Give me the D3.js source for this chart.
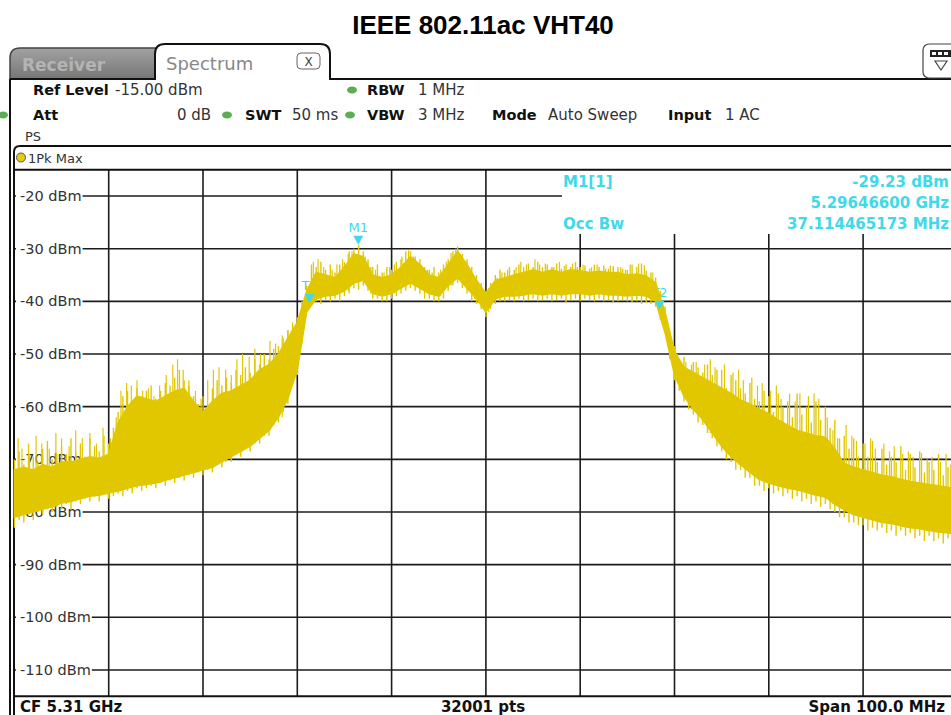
<!DOCTYPE html>
<meta charset="utf-8">
<head>
<script src="https://d3js.org/d3.v7.min.js"></script>
<style>
  body { margin: 0; background: #fff; }
  text { font-family: "DejaVu Sans", Verdana, sans-serif; }
</style>
</head>
<body>
<div id="chart"></div>
<script>
// frequency offset from CF 5.31 GHz in MHz, 1 MHz steps over the 100 MHz span
var freqMHz = d3.range(-50, 51);

// lower edge of the dense part of the max-hold trace (dBm)
var floorDbm = [
  -81, -80.5, -80, -79.5, -79, -78.3, -78, -77.5, -77, -76.8,
  -76.4, -76, -75.5, -75, -74.8, -74.5, -74, -73.5, -73, -72.5,
  -72, -71.5, -70.5, -69.5, -68.5, -67.5, -66, -64.5, -62, -58.5,
  -53, -42, -39.5, -39, -38.8, -38, -36.5, -36, -38.5, -39,
  -38.5, -37.5, -36.5, -37.5, -38.5, -39, -37, -35.5, -37.5, -39.5,
  -42,
  -39.5, -39, -39, -38.8, -38.5, -38.8, -38.5, -38.8, -38.5, -38.5,
  -38.8, -38.5, -38.8, -38.8, -39, -38.8, -39, -40, -46, -54,
  -58, -60.5, -62.5, -65, -67.5, -69.5, -71, -72.5, -73.8, -74.5,
  -75, -75.5, -75.8, -76.3, -76.8, -77.2, -78.5, -79.6, -80.5, -81,
  -81.5, -82, -82.2, -82.6, -83, -83.2, -83.5, -83.8, -84, -84.2
];

// upper edge of the dense part (dBm)
var bandTopDbm = [
  -72, -71.5, -72, -71, -71.5, -70.5, -70.5, -70, -69.5, -69.8,
  -69, -63, -60, -58, -58.5, -59, -58, -57, -56.5, -59,
  -61, -59, -57.5, -57, -56, -55, -53, -52, -50, -47,
  -44, -38, -34.5, -35, -35.5, -33.5, -31, -31.5, -35, -35.5,
  -35, -33.5, -31.5, -33, -35, -35.5, -33, -30.5, -33, -36,
  -38.5,
  -36, -35.5, -35, -34.5, -34, -34.5, -34, -34.5, -34, -34.2,
  -34.5, -34.3, -34.5, -34.5, -35, -34.8, -35.2, -36.5, -42, -49.5,
  -52.5, -53.5, -54.5, -55.5, -56.5, -57.5, -58.7, -59.5, -60.5, -61.3,
  -62.5, -63.5, -64.5, -65, -65.5, -65.8, -68, -70.8, -71.5, -72,
  -72.5, -73, -73.3, -73.8, -74.2, -74.5, -74.8, -75, -75.3, -75.5
];

// fine min/max hairs every 0.5 MHz (dBm)
var hairFreq = d3.range(-50, 50.25, 0.5);
var hairTopDbm = [
  -70, -68.5, -71, -67, -69.5, -70.5, -68, -66.5, -70, -69,
  -67.5, -69, -66, -68.5, -67, -69.5, -66, -67.5, -68.5, -65.5,
  -67, -64, -61, -58, -57, -59.5, -56.5, -58, -57, -56,
  -58.5, -57, -55.5, -56, -54.5, -53, -55, -56, -58, -59.5,
  -58, -60, -56.5, -55, -56, -54.5, -55.5, -53, -54, -52.5,
  -53.5, -51, -52, -50, -51, -49, -48.5, -47, -45.5, -44.5,
  -43, -40, -37, -33, -33.5, -32.5, -34, -33, -34.5, -33,
  -32.5, -30.5, -30, -29.3, -30.5, -32, -33.5, -33, -34.5, -33.5,
  -34, -32.5, -32, -30.5, -30.5, -31.5, -32, -33.5, -34, -33.5,
  -34.5, -33, -32, -30.5, -29.6, -31, -32, -33.5, -35, -36.5,
  -38, -36.5, -35, -34, -34.5, -33.5, -34, -33, -33.5, -32.8,
  -33.5, -32.5, -33.5, -33, -33.5, -32.8, -33.8, -33, -33.5, -32.5,
  -33.5, -33.2, -33.8, -33, -33.5, -33.2, -33.8, -33.3, -33.5, -33.8,
  -34, -33, -33.5, -32.8, -34.2, -34.5, -35.5, -38, -41, -46,
  -48.5, -51, -50.5, -53, -51.5, -52.5, -53.5, -52, -54, -53,
  -53, -56.5, -54, -55, -56.5, -57.5, -55.5, -58.5, -59, -57,
  -58, -61, -57.5, -60, -59, -62, -57.5, -61.5, -60, -63,
  -59, -62.5, -60, -64, -62.5, -66, -65.5, -68, -66, -69.5,
  -67, -69.5, -66.5, -70.5, -68, -71, -69.5, -70.5, -67.5, -72,
  -69, -71.5, -68.5, -72.5, -70.5, -72, -69, -73, -71.5, -73.5,
  -71
];
var hairBottomDbm = [
  -83, -81.5, -82, -80.5, -81.5, -80, -80.5, -79.5, -80, -79,
  -79.5, -78.5, -79.5, -78, -78.5, -77.5, -78, -77, -78, -76.5,
  -77.5, -77, -76.5, -77, -76, -76.5, -75.5, -76, -75.5, -75,
  -75.5, -74.5, -75, -74, -74.5, -73.5, -74, -73, -73.5, -72.5,
  -73, -72, -72.5, -71, -71.5, -70, -70.5, -69, -69.5, -68,
  -68.5, -67, -67, -65.5, -65.5, -63.5, -63, -61, -59.5, -56,
  -54, -48, -42, -40.5, -40, -40.5, -39.8, -40, -39.5, -40,
  -39, -38.5, -37.5, -37.8, -37, -38, -39.5, -39.5, -40, -40,
  -39.5, -39, -38.5, -38, -37.5, -38, -38.5, -39.5, -39.5, -40,
  -40, -39.5, -38, -37, -36.5, -37.5, -38.5, -40, -40.5, -41.5,
  -43, -41.5, -40.5, -40, -40, -39.8, -40, -39.5, -40, -39.8,
  -39.5, -40, -39.8, -39.5, -40, -39.8, -39.5, -40.2, -39.8, -39.5,
  -40, -39.5, -39.8, -40, -39.5, -40, -39.8, -40.2, -40, -39.8,
  -40, -40.2, -40, -40.5, -40.2, -40.5, -41, -43.5, -46, -51,
  -55, -57, -59, -60.5, -61.5, -63, -63.5, -65, -66, -67.5,
  -68.5, -70, -70.5, -72, -72, -73.5, -73.5, -75, -75, -76,
  -75.5, -76.5, -76, -77, -76.5, -77.5, -77, -78, -77.5, -78.5,
  -78, -79, -78.5, -79.5, -80, -81, -81, -82, -82, -82.5,
  -82.5, -83.5, -83, -83.5, -83, -84, -83.5, -84.5, -83.5, -84.5,
  -84, -85, -84.5, -85.5, -84.5, -85.5, -85, -86, -85, -86,
  -85.5
];

// isolated peaks sticking out of the band
var peakFreq = [
  -49.6, -49.2, -48.4, -47.7, -47.1, -46.3, -45.6, -45.0, -44.2, -43.5,
  -42.8, -42.0, -41.3, -40.6, -39.8, -39.2, -38.7, -38.1, -37.6, -37.0,
  -36.4, -35.8, -35.2, -34.6, -33.9, -33.2, -32.7, -32.1, -31.5, -30.8,
  -30.2, -29.5, -28.9, -28.3, -27.6, -27.0, -26.4, -25.8, -25.1, -24.5,
  -23.9, -22.9, -22.3, -21.6, -21.0, -20.5,
  -18.3, -17.8, -17.2, -16.3, -15.8, -15.2, -14.6, -14.2, -12.8, -12.2,
  -11.7, -10.8, -10.2, -9.7, -8.9, -8.2, -7.7, -6.9, -6.2, -5.7,
  -4.8, -4.2, -3.7, -3.2, -2.7, -1.8, -1.2, -0.7, 0.3, 1.2,
  1.7, 2.3, 3.2, 3.7, 4.3, 5.2, 5.7, 6.3, 7.2, 7.8,
  8.3, 9.2, 9.7, 10.3, 11.2, 11.8, 12.7, 13.2, 14.3, 14.8,
  15.3, 16.2, 16.8, 17.7,
  19.3, 20.3, 21.2, 21.8, 22.3, 23.2, 23.8, 24.3, 25.3, 26.2,
  26.8, 27.3, 28.2, 28.8, 29.3, 30.2, 30.8, 31.3, 32.2, 32.8,
  33.3, 34.2, 34.8, 35.3, 36.2, 36.8, 37.3, 38.2, 38.8, 39.3,
  40.2, 40.8, 41.3, 42.2, 42.8, 43.3, 44.2, 44.8, 45.3, 46.2,
  46.8, 47.3, 48.2, 48.8, 49.3
];
var peakDbm = [
  -66, -68, -69, -65.5, -67, -68, -65, -66, -67.5, -64.5,
  -66, -65, -67, -64, -66, -62, -57, -55.5, -56, -55,
  -57, -56.5, -58, -56, -54, -52, -51, -53, -55, -57,
  -58.5, -55, -53, -52.5, -53, -54, -51, -50, -50.5, -49,
  -50, -47.5, -48, -46.5, -45.5, -44,
  -32.5, -32, -33.5, -34, -33, -32, -31, -30.5, -31.5, -33.5,
  -34, -34.5, -33.5, -33, -31.5, -30.3, -31.5, -33, -34, -34.5,
  -34, -32.5, -30.8, -30, -31, -33.5, -35.5, -37, -37.5, -35.5,
  -34.5, -34, -33.5, -32.5, -33, -32, -33, -32.8, -33.5, -32.5,
  -33.3, -32.8, -33.5, -33, -33.5, -33, -33.8, -33.2, -33.5, -34,
  -33, -32.8, -33.1, -34.5,
  -46, -50, -51.5, -52, -51.5, -52, -51, -52.5, -52, -53.5,
  -53, -55, -54.5, -56, -55.5, -57, -56, -58.5, -57.5, -59,
  -57.5, -58, -57.5, -58.5, -62, -64.5, -66, -63.5, -65.5, -66.5,
  -67, -66, -68, -67, -68.5, -67.5, -69, -68.5, -69.5, -68.8,
  -70, -69.5, -70.5, -69, -71
];

var levelTicks = [-20, -30, -40, -50, -60, -70, -80, -90, -100, -110];
var freqGrid = [-40, -30, -20, -10, 0, 10, 20, 30, 40];

// markers: M1 peak and the two occupied-bandwidth edges
var markerNames = ["M1", "T1", "T2"];
var markerFreq = [-13.534, -18.7, 18.414];
var markerDbm = [-29.23, -40.3, -41.6];

var W = 951, H = 715;
var traceColor = "#e1c700";
var cyan = "#3fd9ea";

var svg = d3.select("#chart").append("svg")
  .attr("width", W).attr("height", H);

var x = d3.scaleLinear().domain([-50, 50]).range([14.4, 957.4]);
var y = d3.scaleLinear().domain([-15, -115]).range([169.7, 696.3]);

// title
svg.append("text")
  .attr("x", 483).attr("y", 34)
  .attr("text-anchor", "middle")
  .style("font-family", "'Liberation Sans', Arial, sans-serif")
  .style("font-weight", "bold").style("font-size", "26px")
  .text("IEEE 802.11ac VHT40");

// tabs
var grad = svg.append("defs").append("linearGradient")
  .attr("id", "tabGrad").attr("x1", 0).attr("y1", 0).attr("x2", 0).attr("y2", 1);
grad.append("stop").attr("offset", "0%").attr("stop-color", "#a2a2a2");
grad.append("stop").attr("offset", "100%").attr("stop-color", "#767676");

svg.append("path")
  .attr("d", "M10,79 V58 Q10,48 20,48 H158 V79 Z")
  .attr("fill", "url(#tabGrad)").attr("stroke", "#444").attr("stroke-width", 1.5);
svg.append("text").attr("x", 22).attr("y", 71)
  .style("font-weight", "bold").style("font-size", "17px").attr("fill", "#b4b4b4")
  .text("Receiver");

svg.append("path")
  .attr("d", "M155,80 V54 Q155,44 165,44 H320 Q330,44 330,54 V79 H951")
  .attr("fill", "#fff").attr("stroke", "#111").attr("stroke-width", 2);
svg.append("line").attr("x1", 10).attr("x2", 155).attr("y1", 79).attr("y2", 79)
  .attr("stroke", "#111").attr("stroke-width", 2);
svg.append("text").attr("x", 166).attr("y", 70)
  .style("font-size", "18px").attr("fill", "#888").text("Spectrum");
svg.append("rect").attr("x", 297).attr("y", 53).attr("width", 23).attr("height", 16)
  .attr("rx", 4).attr("fill", "#fff").attr("stroke", "#666");
svg.append("text").attr("x", 308.5).attr("y", 65.5).attr("text-anchor", "middle")
  .style("font-size", "12px").attr("fill", "#444").text("X");

// icon at top right
svg.append("rect").attr("x", 923).attr("y", 44).attr("width", 40).attr("height", 34)
  .attr("rx", 6).attr("fill", "#fff").attr("stroke", "#444").attr("stroke-width", 1.2);
svg.append("rect").attr("x", 930).attr("y", 50).attr("width", 24).attr("height", 7).attr("fill", "#222");
[932, 938, 944].forEach(function (sx) {
  svg.append("rect").attr("x", sx).attr("y", 52).attr("width", 4).attr("height", 3).attr("fill", "#fff");
});
svg.append("path").attr("d", "M935,61 L947,61 L941,70 Z")
  .attr("fill", "none").attr("stroke", "#444").attr("stroke-width", 1.2);

// setting panel
function dot(cx, cy) {
  svg.append("ellipse").attr("cx", cx).attr("cy", cy).attr("rx", 5).attr("ry", 3.5)
    .attr("fill", "#5bae52");
}
function label(tx, ty, str, bold, size) {
  svg.append("text").attr("x", tx).attr("y", ty)
    .style("font-weight", bold ? "bold" : "normal")
    .style("font-size", (size || (bold ? 14.5 : 15)) + "px")
    .attr("fill", bold ? "#111" : "#333")
    .text(str);
}
label(33, 95, "Ref Level", true);
label(115, 95, "-15.00 dBm");
dot(352, 90);
label(367, 95, "RBW", true);
label(418, 95, "1 MHz");

dot(3, 115);
label(33, 120, "Att", true);
label(177, 120, "0 dB");
dot(227, 115);
label(245, 120, "SWT", true);
label(292, 120, "50 ms");
dot(350, 115);
label(367, 120, "VBW", true);
label(418, 120, "3 MHz");
label(492, 120, "Mode", true);
label(548, 120, "Auto Sweep");
label(668, 120, "Input", true);
label(725, 120, "1 AC");
label(25, 141, "PS", false, 13);

// trace window frame
svg.append("line").attr("x1", 10).attr("x2", 10).attr("y1", 79).attr("y2", H)
  .attr("stroke", "#111").attr("stroke-width", 2);
svg.append("path").attr("d", "M14,715 V152 Q14,146 20,146 H951")
  .attr("fill", "none").attr("stroke", "#111").attr("stroke-width", 2);
svg.append("circle").attr("cx", 21).attr("cy", 157.5).attr("r", 4.5)
  .attr("fill", "#e6cc10").attr("stroke", "#555").attr("stroke-width", 1);
label(28, 162.5, "1Pk Max", false, 13);

// grid
var infoLeft = 562, infoBottom = 234;
svg.append("g").selectAll("line").data(freqGrid).join("line")
  .attr("x1", function (d) { return x(d); })
  .attr("x2", function (d) { return x(d); })
  .attr("y1", function (d) { return x(d) > infoLeft ? infoBottom : y(-15); })
  .attr("y2", y(-115))
  .attr("stroke", "#1c1c1c").attr("stroke-width", 1.6);
svg.append("g").selectAll("line").data(levelTicks).join("line")
  .attr("x1", x(-50))
  .attr("x2", function (d) { return y(d) < infoBottom ? infoLeft : W; })
  .attr("y1", function (d) { return y(d); })
  .attr("y2", function (d) { return y(d); })
  .attr("stroke", "#1c1c1c").attr("stroke-width", 1.6);

// level labels on a white patch
var tl = svg.append("g").selectAll("g").data(levelTicks).join("g")
  .attr("transform", function (d) { return "translate(20," + y(d) + ")"; });
tl.append("rect").attr("x", -4).attr("y", -8).attr("height", 16).attr("fill", "#fff");
tl.append("text").attr("dy", "0.35em")
  .style("font-size", "14.5px").attr("fill", "#333")
  .text(function (d) { return d + " dBm"; });
tl.each(function () {
  var g = d3.select(this);
  var w = g.select("text").node().getComputedTextLength();
  g.select("rect").attr("width", w + 5);
});

// frame borders of the diagram
svg.append("line").attr("x1", 14).attr("x2", W).attr("y1", y(-15)).attr("y2", y(-15))
  .attr("stroke", "#111").attr("stroke-width", 2);
svg.append("line").attr("x1", 14).attr("x2", W).attr("y1", y(-115)).attr("y2", y(-115))
  .attr("stroke", "#111").attr("stroke-width", 2);

// marker labels sit beneath the trace
var mk = d3.range(markerNames.length);
svg.append("g").selectAll("text").data(mk).join("text")
  .attr("x", function (i) { return x(markerFreq[i]); })
  .attr("y", function (i) { return y(markerDbm[i]) - 13; })
  .attr("text-anchor", "middle")
  .style("font-size", "13px").attr("fill", cyan)
  .text(function (i) { return markerNames[i]; });

// trace
svg.append("clipPath").attr("id", "plotClip").append("rect")
  .attr("x", 12).attr("y", y(-15)).attr("width", W - 12).attr("height", y(-115) - y(-15));
var trace = svg.append("g").attr("clip-path", "url(#plotClip)");

var band = d3.area()
  .x(function (d, i) { return x(freqMHz[i]); })
  .y0(function (d, i) { return y(floorDbm[i]); })
  .y1(function (d, i) { return y(bandTopDbm[i]); });
trace.append("path").datum(freqMHz).attr("d", band)
  .attr("fill", traceColor).attr("stroke", traceColor).attr("stroke-width", 1.5);

trace.append("g").selectAll("line").data(hairFreq).join("line")
  .attr("x1", function (d) { return x(d); })
  .attr("x2", function (d) { return x(d); })
  .attr("y1", function (d, i) { return y(hairBottomDbm[i]); })
  .attr("y2", function (d, i) { return y(hairTopDbm[i]); })
  .attr("stroke", traceColor).attr("stroke-width", 1.4);

trace.append("g").selectAll("line").data(peakFreq).join("line")
  .attr("x1", function (d) { return x(d); })
  .attr("x2", function (d) { return x(d); })
  .attr("y1", function (d) { return y(floorDbm[Math.round(d) + 50]); })
  .attr("y2", function (d, i) { return y(peakDbm[i]); })
  .attr("stroke", traceColor).attr("stroke-width", 1.2);

// marker triangles
svg.append("g").selectAll("path").data(mk).join("path")
  .attr("d", function (i) {
    var px = x(markerFreq[i]), py = y(markerDbm[i]);
    return "M" + (px - 5) + "," + (py - 9) + " L" + (px + 5) + "," + (py - 9) + " L" + px + "," + py + " Z";
  })
  .attr("fill", cyan);

// marker readout
function readout(tx, ty, str, anchor) {
  svg.append("text").attr("x", tx).attr("y", ty).attr("text-anchor", anchor || "start")
    .style("font-weight", "bold").style("font-size", "15px").attr("fill", cyan).text(str);
}
readout(563, 187, "M1[1]");
readout(949, 187, "-29.23 dBm", "end");
readout(949, 208, "5.29646600 GHz", "end");
readout(563, 229, "Occ Bw");
readout(949, 229, "37.114465173 MHz", "end");

// footer
svg.append("text").attr("x", 20).attr("y", 712)
  .style("font-weight", "bold").style("font-size", "15px").attr("fill", "#111").text("CF 5.31 GHz");
svg.append("text").attr("x", 483).attr("y", 712).attr("text-anchor", "middle")
  .style("font-weight", "bold").style("font-size", "15px").attr("fill", "#111").text("32001 pts");
svg.append("text").attr("x", 945).attr("y", 712).attr("text-anchor", "end")
  .style("font-weight", "bold").style("font-size", "15px").attr("fill", "#111").text("Span 100.0 MHz");
</script>
</body>
